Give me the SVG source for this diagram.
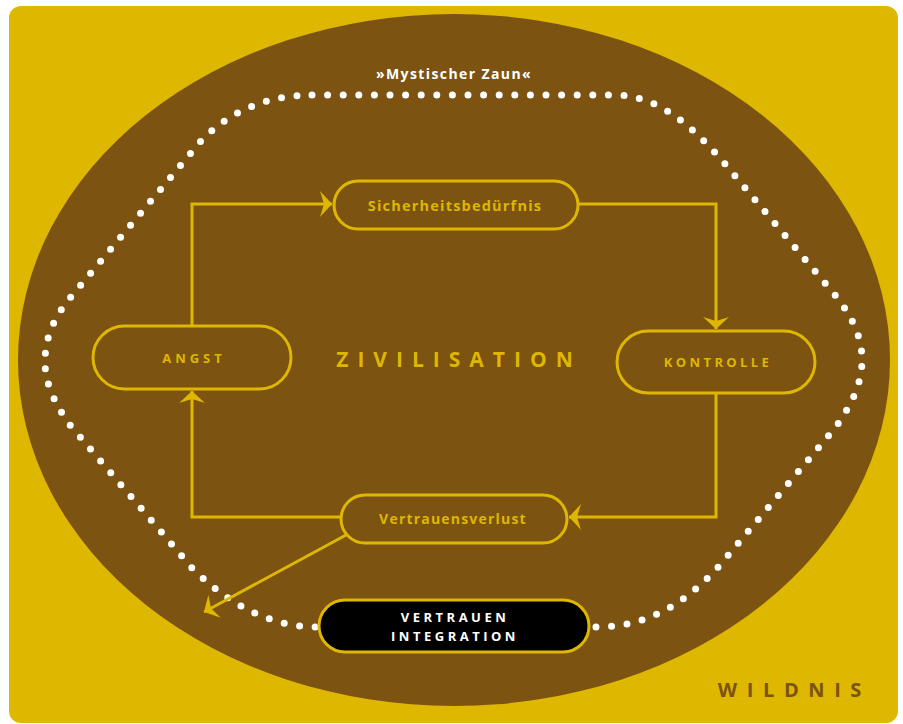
<svg xmlns="http://www.w3.org/2000/svg" width="903" height="724" viewBox="0 0 903 724">
<style>
.node{fill:#7C5310;stroke:#DDB700;stroke-width:3}
.dark{fill:#000;stroke:#DDB700;stroke-width:3}
.lbl{font-family:"Open Sans","Liberation Sans",sans-serif;font-weight:bold;fill:#DDB700;text-anchor:middle}
.wlbl{font-family:"Open Sans","Liberation Sans",sans-serif;font-weight:bold;fill:#fff;text-anchor:middle}
.conn{fill:none;stroke:#DDB700;stroke-width:3}
</style>
<defs>
<marker id="ah" markerUnits="userSpaceOnUse" viewBox="-13 -14 14 28" refX="0" refY="0" markerWidth="14" markerHeight="28" orient="auto">
<path d="M0,0 L-12,-13 L-8,0 L-12,13 Z" fill="#DDB700"/>
</marker>
</defs>
<rect x="9" y="6" width="889" height="717" rx="12" fill="#DDB700"/>
<ellipse cx="454" cy="360" rx="436" ry="346" fill="#7C5310"/>
<path d="M 312 95 L 620 95 C 660 98 690 125 720 158 L 835 295 C 855 320 862 340 862 360 C 862 380 855 400 835 428 L 720 565 C 680 610 640 627 597 627 L 318 627 C 270 627 230 605 192 568 L 70 425 C 52 400 45 380 45 362 C 45 340 52 320 70 298 L 200 142 C 230 110 270 95 312 95 Z" fill="none" stroke="#fff" stroke-width="7" stroke-linecap="round" stroke-dasharray="0 15.6"/>
<text class="wlbl" x="454" y="79" font-size="14" letter-spacing="1.4">»Mystischer Zaun«</text>
<text class="lbl" x="459" y="367" font-size="21" letter-spacing="9">ZIVILISATION</text>
<text x="871" y="697" font-family="'Open Sans','Liberation Sans',sans-serif" font-weight="bold" font-size="20" letter-spacing="9.6" fill="#7C5310" text-anchor="end">WILDNIS</text>
<g id="connectors">
<path class="conn" d="M192,326 L192,204 L332,204" marker-end="url(#ah)"/>
<path class="conn" d="M578,204 L716,204 L716,329" marker-end="url(#ah)"/>
<path class="conn" d="M716,393 L716,517 L569,517" marker-end="url(#ah)"/>
<path class="conn" d="M341,517 L192,517 L192,391" marker-end="url(#ah)"/>
<path class="conn" d="M346,535 L204,612" marker-end="url(#ah)"/>
</g>
<g id="sicherheit">
<rect class="node" x="334" y="181" width="244" height="48" rx="24"/>
<text class="lbl" x="455" y="211" font-size="14.5" letter-spacing="1.2">Sicherheitsbedürfnis</text>
</g>
<g id="angst">
<rect class="node" x="93" y="326" width="198" height="63" rx="31.5"/>
<text class="lbl" x="194" y="363" font-size="13" letter-spacing="4">ANGST</text>
</g>
<g id="kontrolle">
<rect class="node" x="617" y="331" width="198" height="62" rx="31"/>
<text class="lbl" x="718" y="367" font-size="13" letter-spacing="3.4">KONTROLLE</text>
</g>
<g id="vertrauensverlust">
<rect class="node" x="341" y="495" width="226" height="48" rx="24"/>
<text class="lbl" x="453" y="524" font-size="14" letter-spacing="1.2">Vertrauensverlust</text>
</g>
<g id="vertrauen">
<rect class="dark" x="319" y="600" width="270" height="52" rx="26"/>
<text class="wlbl" x="455" y="622" font-size="13" letter-spacing="3.5">VERTRAUEN</text>
<text class="wlbl" x="455" y="641" font-size="13" letter-spacing="3.5">INTEGRATION</text>
</g>
</svg>
